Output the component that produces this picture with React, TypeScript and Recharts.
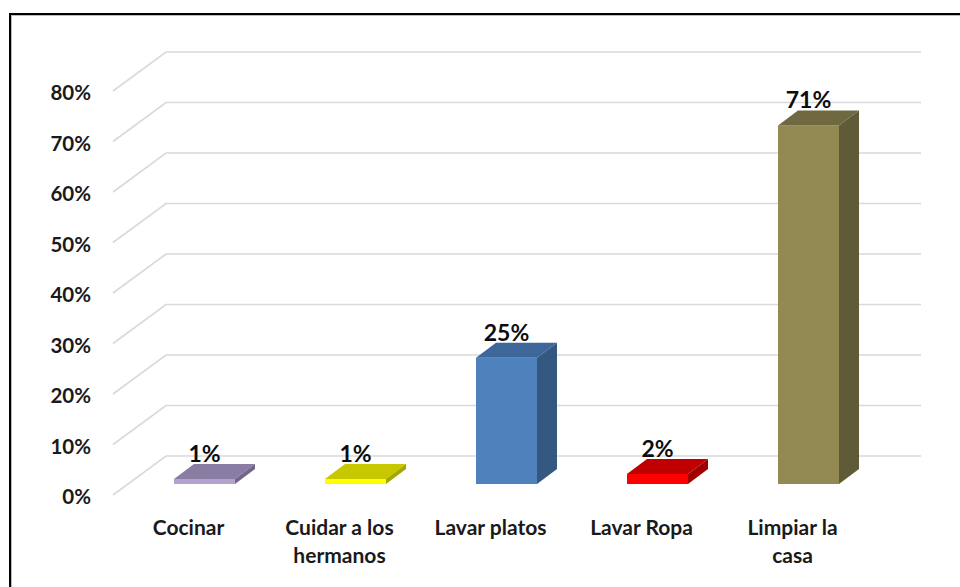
import { BarChart, Bar, XAxis, YAxis, CartesianGrid, LabelList } from 'recharts';

const categories = ['Cocinar', 'Cuidar a los\nhermanos', 'Lavar platos', 'Lavar Ropa', 'Limpiar la\ncasa'];
const values = [0.01, 0.01, 0.25, 0.02, 0.71];
const yTicks = [0, 0.1, 0.2, 0.3, 0.4, 0.5, 0.6, 0.7, 0.8];

const frontColors = ['#B3A2CB', '#FFFF00', '#4F81BD', '#FF0000', '#938953'];
const topColors = ['#8A7DA3', '#C8C800', '#3D679A', '#C00000', '#6F6840'];
const sideColors = ['#71668A', '#A6A600', '#34587F', '#A00000', '#5F5A38'];

const data = categories.map((name, i) => ({ name, value: values[i] }));

// bar placement inside the 3D box, and the depth of each bar
const SHIFT_X = 16;
const SHIFT_Y = -11;
const DEPTH_X = 20;
const DEPTH_Y = 15;
// depth of the back wall
const WALL_X = 53;
const WALL_Y = 39;

const FONT = 'Lato, "Open Sans", sans-serif';

function Bar3D(props: any) {
  const { x, y, width, height, index } = props;
  if (width == null || height == null) return null;
  const fx = x + SHIFT_X;
  const fy = y + SHIFT_Y;
  const fb = y + height + SHIFT_Y;
  const fr = fx + width;
  return (
    <g>
      <rect x={fx} y={fy} width={width} height={Math.max(height, 0)} fill={frontColors[index]} />
      <polygon
        points={`${fx},${fy} ${fx + DEPTH_X},${fy - DEPTH_Y} ${fr + DEPTH_X},${fy - DEPTH_Y} ${fr},${fy}`}
        fill={topColors[index]}
      />
      <polygon
        points={`${fr},${fy} ${fr + DEPTH_X},${fy - DEPTH_Y} ${fr + DEPTH_X},${fb - DEPTH_Y} ${fr},${fb}`}
        fill={sideColors[index]}
      />
    </g>
  );
}

function GridLine(props: any) {
  const { x1, y1, x2 } = props;
  return (
    <path
      key={props.key}
      d={`M${x1},${y1} L${x1 + WALL_X},${y1 - WALL_Y} L${x2 + WALL_X},${y1 - WALL_Y}`}
      fill="none"
      stroke="#D9D9D9"
      strokeWidth={1.6}
    />
  );
}

function YTick({ x, y, payload }: any) {
  return (
    <text
      x={x - 16}
      y={y + 1}
      textAnchor="end"
      dominantBaseline="central"
      fontFamily={FONT}
      fontWeight={700}
      fontSize={20.5}
      fill="#1a1a1a"
    >
      {`${Math.round(payload.value * 100)}%`}
    </text>
  );
}

function XTick({ x, y, payload }: any) {
  const lines = String(payload.value).split('\n');
  return (
    <text
      x={x}
      y={y}
      textAnchor="middle"
      fontFamily={FONT}
      fontWeight={700}
      fontSize={21}
      fill="#1a1a1a"
    >
      {lines.map((l, i) => (
        <tspan key={i} x={x} dy={i === 0 ? 32 : 28}>
          {l}
        </tspan>
      ))}
    </text>
  );
}

function ValueLabel(props: any) {
  const { x, y, width, value } = props;
  return (
    <text
      x={x + SHIFT_X + width / 2}
      y={y + SHIFT_Y - DEPTH_Y - 2}
      textAnchor="middle"
      fontFamily={FONT}
      fontWeight={700}
      fontSize={23}
      fill="#0d0d0d"
    >
      {`${Math.round(value * 100)}%`}
    </text>
  );
}

export default function App() {
  return (
    <div
      style={{
        position: 'absolute',
        left: 0,
        top: 0,
        width: 960,
        height: 587,
        overflow: 'hidden',
        background: '#fff',
      }}
    >
      <div
        style={{
          position: 'absolute',
          left: 9,
          top: 13,
          width: 1000,
          height: 1000,
          border: '2px solid #000',
          boxShadow: 'inset 1px 1px 0 #bbb',
        }}
      />
      <BarChart
        width={960}
        height={587}
        data={data}
        margin={{ top: 91, right: 92, left: 53, bottom: 0 }}
        style={{ position: 'absolute', left: 0, top: 0 }}
      >
        <CartesianGrid vertical={false} horizontal={GridLine as any} />
        <XAxis
          dataKey="name"
          axisLine={false}
          tickLine={false}
          tick={<XTick />}
          interval={0}
          height={92}
        />
        <YAxis
          domain={[0, 0.8]}
          ticks={yTicks}
          axisLine={false}
          tickLine={false}
          tick={<YTick />}
          width={60}
          tickMargin={0}
        />
        <Bar dataKey="value" barSize={61} shape={<Bar3D />} isAnimationActive={false}>
          <LabelList dataKey="value" content={<ValueLabel />} />
        </Bar>
      </BarChart>
    </div>
  );
}
